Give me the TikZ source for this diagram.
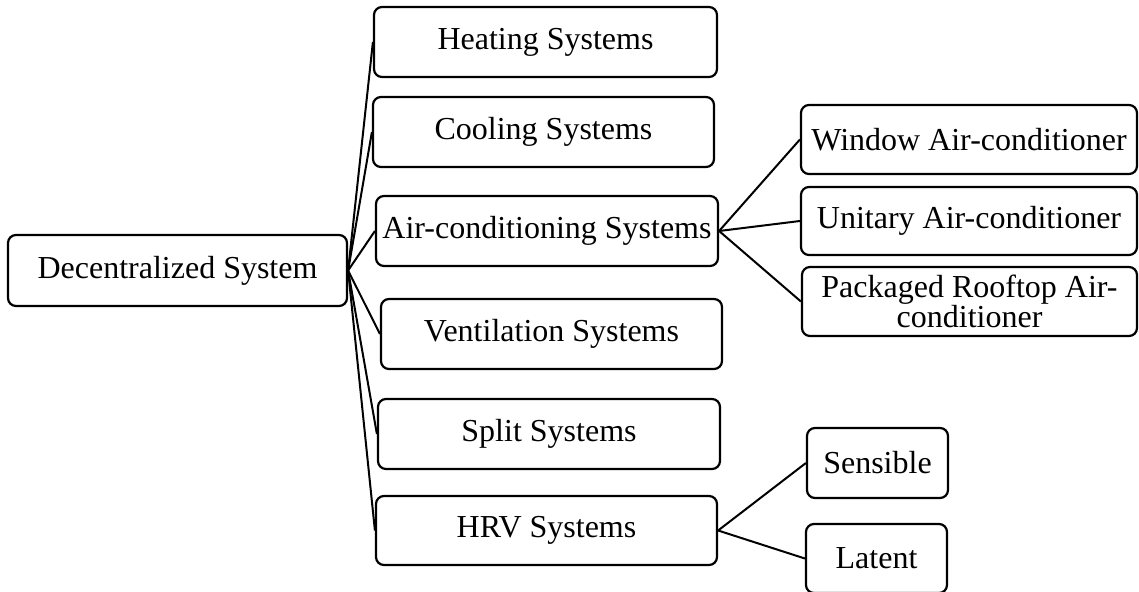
\documentclass[tikz,border=0pt]{standalone}
\usepackage{fontspec}
\setmainfont{Liberation Serif}
\begin{document}
\begin{tikzpicture}[x=1pt,y=-1pt,
  box/.style={draw=black, line width=2.2pt, rounded corners=8pt, inner sep=0pt,
    align=center, font=\fontsize{32}{32}\selectfont},
  link/.style={draw=black, line width=2pt}]
\useasboundingbox (0,0) rectangle (1139,591);
\node[box, minimum width=339pt, minimum height=71pt] (dec) at (177.5,270.5) {Decentralized System};
\node[box, minimum width=343pt, minimum height=70pt] (heat) at (545.5,42) {Heating Systems};
\node[box, minimum width=341pt, minimum height=70pt] (cool) at (543.5,132) {Cooling Systems};
\node[box, minimum width=342pt, minimum height=70pt] (ac) at (547,231) {Air-conditioning Systems};
\node[box, minimum width=341pt, minimum height=70pt] (vent) at (551.5,334) {Ventilation Systems};
\node[box, minimum width=342pt, minimum height=70pt] (split) at (549,434) {Split Systems};
\node[box, minimum width=341pt, minimum height=69pt] (hrv) at (546.5,530.5) {HRV Systems};
\node[box, minimum width=336pt, minimum height=69pt] (win) at (969,139.5) {Window Air-conditioner};
\node[box, minimum width=336pt, minimum height=68pt] (uni) at (969,221) {Unitary Air-conditioner};
\node[box, minimum width=335pt, minimum height=69pt, font=\fontsize{32}{30}\selectfont] (pack) at (969.5,301.5) {Packaged Rooftop Air-\\conditioner};
\node[box, minimum width=141pt, minimum height=70pt] (sens) at (877.5,463) {Sensible};
\node[box, minimum width=141pt, minimum height=69pt] (lat) at (876.5,558.5) {Latent};
\foreach \c in {heat,cool,ac,vent,split,hrv}
  \draw[link] (dec.east) -- (\c.west);
\foreach \c in {win,uni,pack}
  \draw[link] (ac.east) -- (\c.west);
\foreach \c in {sens,lat}
  \draw[link] (hrv.east) -- (\c.west);
\end{tikzpicture}
\end{document}
